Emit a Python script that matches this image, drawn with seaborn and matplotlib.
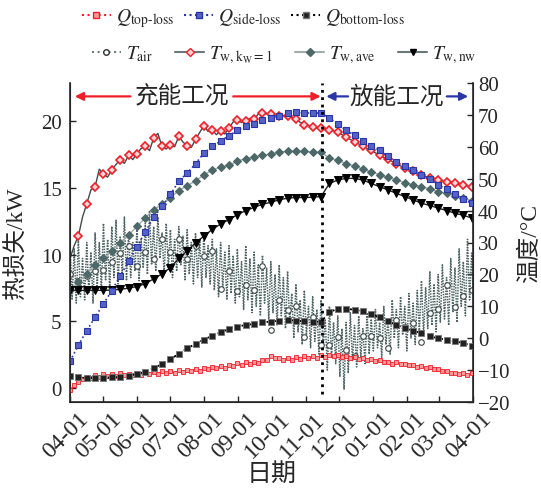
import numpy as np
import pandas as pd
import matplotlib
matplotlib.use('Agg')
import matplotlib.pyplot as plt
import matplotlib.dates as mdates
import matplotlib.transforms as mtrans
from matplotlib.lines import Line2D
import seaborn as sns

# x grids: days after 04-01 (markers every ~7.6 days, finer series every 3.8 days)
week_day = np.arange(49) * 7.6
half_day = np.arange(97) * 3.8
start = pd.Timestamp('2019-04-01')
switch_day = 229  # charge -> discharge

# heat losses, kW (left axis)
q_top = [-0.15, 0.25, 0.45, 0.7, 0.85, 0.72, 0.98, 0.85, 1.05, 0.9,
         1.06, 0.93, 1.1, 0.96, 1.08, 0.98, 1.14, 1.0, 1.18, 1.03,
         1.22, 1.08, 1.24, 1.1, 1.3, 1.15, 1.34, 1.2, 1.36, 1.26,
         1.44, 1.3, 1.48, 1.4, 1.56, 1.47, 1.64, 1.52, 1.74, 1.62,
         1.84, 1.72, 1.92, 1.8, 1.98, 1.88, 2.06, 2.1, 2.4, 2.28,
         2.24, 2.1, 2.24, 2.12, 2.32, 2.2, 2.36, 2.22, 2.42, 2.28,
         2.46, 2.33, 2.48, 2.36, 2.45, 2.33, 2.43, 2.28, 2.32, 2.18,
         2.26, 2.1, 2.14, 2.0, 2.08, 1.93, 1.96, 1.83, 1.91, 1.78,
         1.82, 1.7, 1.74, 1.6, 1.64, 1.5, 1.54, 1.4, 1.42, 1.28,
         1.29, 1.16, 1.16, 1.03, 1.13, 1.0, 1.14]
q_side = [2.0, 3.2, 4.3, 5.3, 6.3, 7.3, 8.4, 9.5, 10.6, 11.7,
          12.8, 13.6, 14.5, 15.5, 16.1, 16.8, 17.6, 18.1, 18.5, 18.9,
          19.3, 19.6, 19.8, 20.1, 20.25, 20.4, 20.6, 20.65, 20.6, 20.6,
          20.6, 20.2, 19.8, 19.3, 18.95, 18.5, 18.15, 17.8, 17.35, 16.9,
          16.6, 16.35, 15.95, 15.65, 15.2, 14.9, 14.5, 14.15, 13.85]
q_bottom = [0.92, 0.8, 0.75, 0.75, 0.75, 0.8, 0.82, 0.9, 1.05, 1.22,
            1.47, 1.8, 2.17, 2.55, 2.97, 3.3, 3.62, 3.92, 4.17, 4.42,
            4.6, 4.72, 4.8, 4.92, 4.97, 5.04, 5.08, 5.04, 5.0, 4.98,
            4.95, 5.7, 5.92, 5.92, 5.87, 5.74, 5.54, 5.29, 5.0, 4.72,
            4.49, 4.29, 4.1, 3.87, 3.72, 3.62, 3.5, 3.37, 3.17]

# temperatures, degC (right axis)
t_air_mean = [20, 18, 19.6, 21, 21.4, 24, 26.8, 28.9, 22.7, 27,
              24.8, 31, 27, 31, 24.8, 29, 25.8, 27.2, 15.5, 21,
              14.8, 16.8, 15, 22.7, 2.5, 11.9, 8.8, 10, 0.4, 6.7,
              -2, -2, 0.4, -3.8, -5.7, 0.7, 0.6, 0, -3.1, 5.6,
              3.5, 4.7, -1.2, 7.9, 9.2, 16.7, 9.7, 13.1, 15]
t_air_hi = [30, 28, 31, 25, 30, 27, 33, 30, 36, 31,
            35, 37, 32, 38, 33, 30, 34, 31, 36, 40,
            35, 38, 33, 36, 34, 31, 35, 32, 34, 30,
            33, 31, 33, 29, 31, 28, 30, 27, 29, 26,
            28, 24, 29, 25, 27, 23, 26, 22, 24, 20,
            23, 19, 21, 14, 17, 12, 15, 10, 13, 9,
            12, 6, 10, 5, 7, 3, 5, 8, 4, 7,
            3, 8, 6, 9, 5, 10, 6, 12, 9, 13,
            10, 14, 11, 15, 18, 16, 21, 17, 20, 23,
            19, 25, 22, 28, 24, 31, 27]
t_air_lo = [12, 11, 13, 12, 14, 11, 16, 15, 18, 15,
            19, 17, 20, 18, 19, 21, 18, 22, 20, 23,
            21, 25, 20, 22, 19, 21, 23, 18, 20, 17,
            19, 16, 19, 17, 15, 13, 16, 12, 14, 11,
            13, 9, 12, 8, 10, 7, 11, 6, 8, 4,
            7, 3, 5, 0, 2, -2, 1, -3, -1, -5,
            -3, -10, -6, -8, -12, -16, -11, -7, -9, -6,
            -8, -5, -4, -3, -6, -2, -5, 0, -3, 1,
            -4, 0, -2, 2, 1, 3, 4, 2, 5, 6,
            4, 8, 5, 10, 7, 12, 9]
t_kw1 = [25, 29, 32, 38, 42.1, 46.5, 47.5, 53, 51.4, 50.5,
         52.8, 54.5, 55.9, 54.8, 57.3, 56, 57.8, 59.5, 60.1, 58.8,
         62.8, 64.2, 60.1, 59.3, 60.7, 60, 63.3, 61.5, 60.3, 59.8,
         62.3, 64.5, 66.6, 64.8, 65.2, 63.8, 65.0, 64, 65.9, 67.8,
         68.3, 67.6, 68.1, 68.9, 68.6, 70.3, 70.7, 70.4, 70.2, 69.9,
         69.7, 69.8, 69.7, 69.2, 68.6, 67.7, 66.9, 66.6, 66.3, 66.0,
         65.8, 65.6, 65.4, 65.0, 64.5, 63.8, 63.0, 62.3, 61.6, 60.9,
         60.2, 59.5, 58.9, 58.1, 57.3, 56.7, 56.1, 55.4, 54.7, 54.0,
         53.4, 52.8, 52.3, 51.8, 51.3, 50.7, 50.1, 49.9, 49.7, 49.3,
         49.0, 48.7, 48.5, 48.2, 48.0, 47.7, 47.5]
t_ave = [15, 17.6, 20.2, 22.9, 25, 27.2, 29.9, 32.3, 35.1, 37.7,
         40.3, 42, 44.1, 46.3, 47.8, 49.3, 51.2, 52.7, 53.7, 54.2,
         55.5, 56.3, 56.8, 57.3, 57.8, 58.3, 58.6, 58.6, 58.6, 58.3,
         58.3, 56.5, 55.8, 54.7, 54, 53, 52.1, 51.3, 50.4, 49.6,
         48.8, 48, 47.5, 46.8, 45.9, 45.4, 44.7, 43.9, 43.1]
t_nw = [15, 15, 15, 15, 15, 15.1, 15.3, 15.7, 16.2, 17.1,
        18.6, 20.2, 22.1, 25, 27.4, 29.9, 32, 34.1, 35.8, 37.2,
        38.7, 40, 41, 42, 42.6, 43.4, 43.9, 44.1, 44.1, 44.2,
        44.4, 48.5, 49.6, 50.1, 50.1, 49.6, 48.5, 47.5, 46.5, 45.4,
        44.4, 43.4, 42.3, 41.6, 40.8, 40, 39.2, 38.5, 37.7]

wk = start + pd.to_timedelta(week_day, unit='D')
hf = start + pd.to_timedelta(half_day, unit='D')
zig_x = start + pd.to_timedelta(np.column_stack([half_day, half_day + 1.9]).ravel(), unit='D')
zig_y = np.column_stack([t_air_hi, t_air_lo]).ravel()

sns.set_style('ticks')
plt.rcParams['font.family'] = ['Liberation Serif', 'Noto Sans CJK SC']
plt.rcParams['mathtext.fontset'] = 'stix'
plt.rcParams['xtick.direction'] = 'in'
plt.rcParams['ytick.direction'] = 'in'

fig = plt.figure(figsize=(5.41, 4.89), dpi=100)
ax = fig.add_axes([70 / 541, 86 / 489, 403 / 541, 319 / 489])
ax2 = ax.twinx()

RED = '#f01e28'
BLUE = '#2a35a8'

# temperatures
sns.lineplot(x=zig_x, y=zig_y, ax=ax2, estimator=None, color='#4f6464',
             linestyle=(0, (1, 0.8)), linewidth=1.1)
sns.lineplot(x=wk, y=t_air_mean, ax=ax2, estimator=None, linestyle='none',
             marker='o', markersize=4, markerfacecolor='white',
             markeredgecolor='#3a4545', markeredgewidth=0.8)
sns.lineplot(x=hf, y=t_kw1, ax=ax2, estimator=None, color='#3f4c4c',
             linewidth=1.0, marker='D', markevery=(2, 2), markersize=4.3,
             markerfacecolor='#ffd6d6', markeredgecolor=RED, markeredgewidth=1.2)
sns.lineplot(x=wk, y=t_ave, ax=ax2, estimator=None, color='#a3adad',
             linewidth=1.0, marker='D', markersize=4.2,
             markerfacecolor='#4d6868', markeredgecolor='#4d6868')
sns.lineplot(x=wk, y=t_nw, ax=ax2, estimator=None, color='#222222',
             linewidth=1.0, marker='v', markersize=5.2,
             markerfacecolor='black', markeredgecolor='black')

# heat losses
sns.lineplot(x=hf, y=q_top, ax=ax, estimator=None, color=RED, linestyle=':',
             linewidth=0.8, marker='s', markersize=2.4,
             markerfacecolor='#ff9a9a', markeredgecolor=RED, markeredgewidth=0.6)
sns.lineplot(x=wk, y=q_side, ax=ax, estimator=None, color=BLUE, linestyle=':',
             linewidth=1.2, marker='s', markersize=4.2,
             markerfacecolor='#5563c8', markeredgecolor=BLUE, markeredgewidth=0.8)
sns.lineplot(x=wk, y=q_bottom, ax=ax, estimator=None, color='black',
             linestyle=(0, (2, 1.5)), linewidth=1.3, marker='s', markersize=4.2,
             markerfacecolor='#222222', markeredgecolor='#777777', markeredgewidth=0.6)

ax.set_zorder(ax2.get_zorder() + 1)
ax.patch.set_visible(False)

ax.axvline(start + pd.Timedelta(days=switch_day), ymin=0.025, ymax=1,
           color='black', linestyle=':', linewidth=2)

ax.set_xlim(start, pd.Timestamp('2020-04-01'))
ax.set_ylim(-1.05, 22.85)
ax2.set_ylim(-20, 80)
ax.set_yticks([0, 5, 10, 15, 20])
ax2.set_yticks(range(-20, 81, 10))
ax2.set_yticklabels(['\u221220', '\u221210', '0', '10', '20', '30', '40', '50', '60', '70', '80'])
ax.xaxis.set_major_locator(mdates.MonthLocator())
ax.xaxis.set_major_formatter(mdates.DateFormatter('%m-%d'))
ax.tick_params(axis='x', labelsize=17, length=4, width=1, pad=3)
ax.tick_params(axis='y', labelsize=15, length=4, width=1, pad=6)
ax2.tick_params(axis='y', labelsize=15, length=4, width=1)
shift = mtrans.ScaledTranslation(0.08, -0.02, fig.dpi_scale_trans)
for lab in ax.get_xticklabels():
    lab.set_rotation(45)
    lab.set_ha('right')
    lab.set_va('top')
    lab.set_rotation_mode('anchor')
    lab.set_transform(lab.get_transform() + shift)
ax.spines['top'].set_visible(False)
ax2.spines['top'].set_visible(False)
for sp in ['left', 'bottom']:
    ax.spines[sp].set_linewidth(1.2)
ax2.spines['right'].set_linewidth(1.2)

ax.set_xlabel('日期', fontsize=18, labelpad=0)
ax.set_ylabel('热损失/kW', fontsize=17, labelpad=9)
ax2.set_ylabel('温度/°C', fontsize=17, labelpad=6)

# operating phases
ty = 0.958
ax.text(0.278, ty, '充能工况', transform=ax.transAxes, fontsize=17,
        ha='center', va='center')
ax.text(0.811, ty, '放能工况', transform=ax.transAxes, fontsize=17,
        ha='center', va='center')
arrows = [((0.15, 0.012), RED), ((0.405, 0.622), RED),
          ((0.69, 0.636), BLUE), ((0.935, 0.988), BLUE)]
for (x0, x1), c in arrows:
    ax.annotate('', xy=(x1, ty), xytext=(x0, ty), xycoords='axes fraction',
                arrowprops=dict(arrowstyle='-|>', color=c, lw=1.6,
                                mutation_scale=12, shrinkA=0, shrinkB=0))

# legend
h1 = [Line2D([], [], color=RED, linestyle=':', marker='s', markersize=4,
             markerfacecolor='#ff9a9a', markeredgecolor=RED),
      Line2D([], [], color=BLUE, linestyle=':', marker='s', markersize=4.5,
             markerfacecolor='#5563c8', markeredgecolor=BLUE),
      Line2D([], [], color='black', linestyle=':', marker='s', markersize=4.5,
             markerfacecolor='#222222', markeredgecolor='#777777')]
l1 = [r'$Q_{\mathrm{top‐loss}}$', r'$Q_{\mathrm{side‐loss}}$', r'$Q_{\mathrm{bottom‐loss}}$']
h2 = [Line2D([], [], color='#6f7f7f', linestyle=':', marker='o', markersize=4,
             markerfacecolor='white', markeredgecolor='#333333'),
      Line2D([], [], color='#6b7878', marker='D', markersize=4,
             markerfacecolor='#ffd6d6', markeredgecolor=RED),
      Line2D([], [], color='#a3adad', marker='D', markersize=4,
             markerfacecolor='#4d6868', markeredgecolor='#4d6868'),
      Line2D([], [], color='#6b7878', marker='v', markersize=5,
             markerfacecolor='black', markeredgecolor='black')]
l2 = [r'$T_{\mathrm{air}}$', r'$T_{\mathrm{w,k_W{=}1}}$', r'$T_{\mathrm{w,ave}}$', r'$T_{\mathrm{w,nw}}$']
leg_kw = dict(frameon=False, fontsize=14, handlelength=1.5, handletextpad=0.25,
              borderaxespad=0)
fig.legend(h1, l1, ncol=3, loc='center', bbox_to_anchor=(0.45, 0.962),
           columnspacing=0.5, **leg_kw)
fig.legend(h2, l2, ncol=4, loc='center', bbox_to_anchor=(0.525, 0.887),
           columnspacing=1.15, **leg_kw)

fig.savefig('out.png', dpi=100)
